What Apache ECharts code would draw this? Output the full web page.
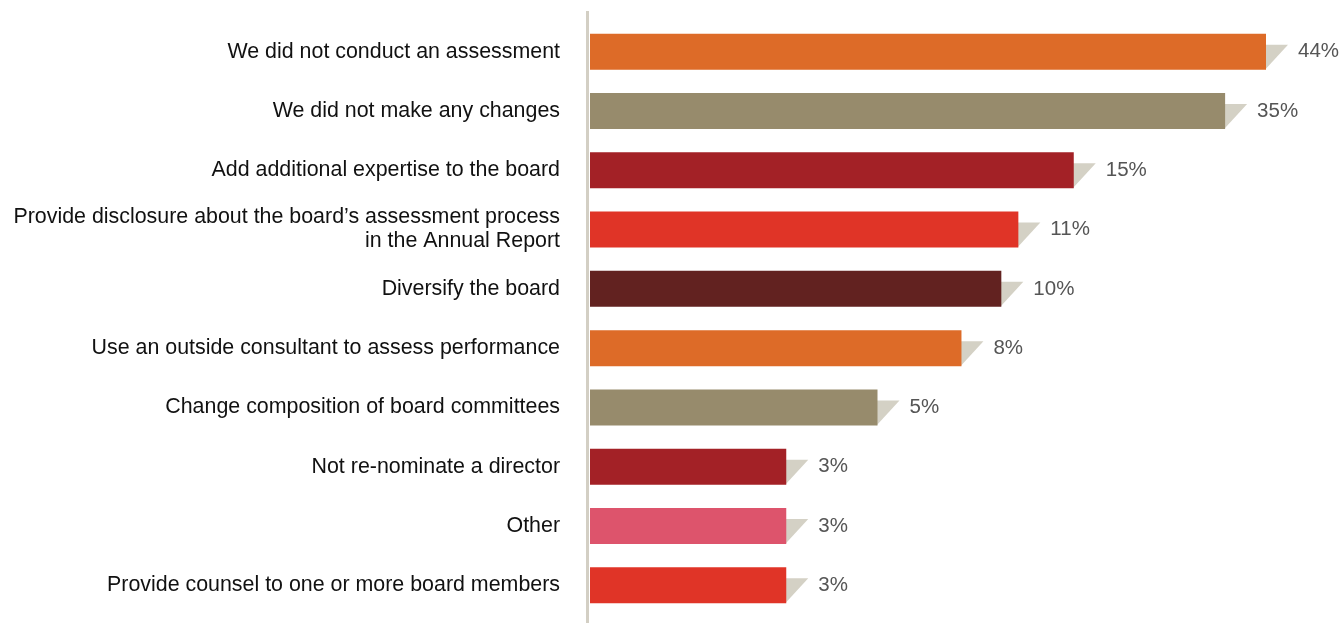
<!DOCTYPE html>
<html>
<head>
<meta charset="utf-8">
<script src="https://cdn.jsdelivr.net/npm/echarts@6/dist/echarts.min.js"></script>
<style>
  html, body { margin: 0; padding: 0; background: #ffffff; }
  #chart { width: 1343px; height: 623px; }
</style>
</head>
<body>
<div id="chart"></div>
<script>
// Board assessment outcomes, share of respondents (%)
const categories = [
  'We did not conduct an assessment',
  'We did not make any changes',
  'Add additional expertise to the board',
  'Provide disclosure about the board\u2019s assessment process\nin the Annual Report',
  'Diversify the board',
  'Use an outside consultant to assess performance',
  'Change composition of board committees',
  'Not re-nominate a director',
  'Other',
  'Provide counsel to one or more board members'
];
const values = [44, 35, 15, 11, 10, 8, 5, 3, 3, 3];
const barColors = [
  '#DD6B28', '#978B6C', '#A32126', '#E03427', '#622220',
  '#DD6B28', '#978B6C', '#A32126', '#DD546C', '#E03427'
];

const chart = echarts.init(document.getElementById('chart'), null, { renderer: 'canvas' });

const BAR_H = 36;

chart.setOption({
  animation: false,
  backgroundColor: '#ffffff',
  grid: { left: 590, right: 1343 - 1266, top: 22, bottom: 8 },
  xAxis: {
    type: 'log',
    logBase: 10,
    min: 1,
    max: Math.max.apply(null, values),
    show: false
  },
  yAxis: {
    type: 'category',
    inverse: true,
    data: categories,
    axisLine: { show: false },
    axisTick: { show: false },
    axisLabel: {
      margin: 30,
      fontFamily: 'Liberation Sans, Arial, sans-serif',
      fontSize: 21.4,
      lineHeight: 24,
      color: '#111111',
      align: 'right',
      padding: [0, 0, 4, 0]
    }
  },
  graphic: [{
    type: 'rect',
    shape: { x: 586, y: 11, width: 3, height: 612 },
    style: { fill: '#D3CFC4' },
    z: 1
  }],
  series: [
    {
      // folded shadow wedge at the end of each bar
      type: 'custom',
      z: 1,
      silent: true,
      data: values.map((v, i) => [v, i]),
      encode: { x: 0, y: 1 },
      renderItem: function (params, api) {
        const p = api.coord([api.value(0), api.value(1)]);
        const top = p[1] - BAR_H / 2;
        const bottom = p[1] + BAR_H / 2;
        return {
          type: 'polygon',
          shape: { points: [[p[0] - 1, top + 11], [p[0] + 22, top + 11], [p[0] - 1, bottom]] },
          style: { fill: '#D4D1C5' }
        };
      }
    },
    {
      type: 'bar',
      z: 2,
      barWidth: BAR_H,
      data: values.map((v, i) => ({ value: v, itemStyle: { color: barColors[i] } })),
      label: {
        show: true,
        position: 'right',
        distance: 32,
        formatter: '{c}%',
        fontFamily: 'Liberation Sans, Arial, sans-serif',
        fontSize: 20.5,
        color: '#555555'
      }
    }
  ]
});
</script>
</body>
</html>
